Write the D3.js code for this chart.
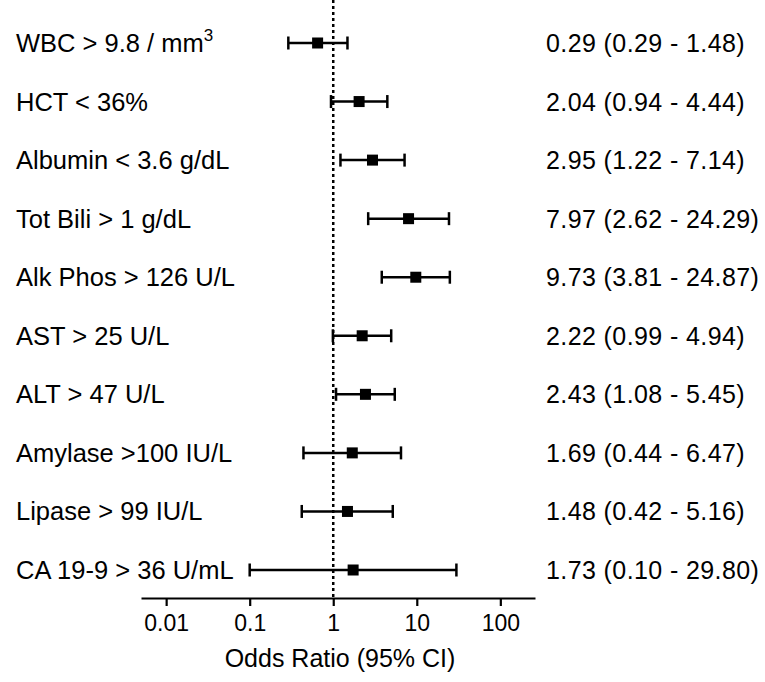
<!DOCTYPE html>
<html>
<head>
<meta charset="utf-8">
<script src="https://cdn.jsdelivr.net/npm/d3@7"></script>
<style>
    body { margin: 0; background: #fff; }
    svg { display: block; font-family: "Liberation Sans", Arial, sans-serif; }
</style>
</head>
<body>
<div id="chart"></div>
<script>
// row labels, top to bottom
const labels = ["WBC > 9.8 / mm", "HCT < 36%", "Albumin < 3.6 g/dL", "Tot Bili > 1 g/dL",
    "Alk Phos > 126 U/L", "AST > 25 U/L", "ALT > 47 U/L", "Amylase >100 IU/L",
    "Lipase > 99 IU/L", "CA 19-9 > 36 U/mL"];
const superscripts = ["3", "", "", "", "", "", "", "", "", ""];

// plotted odds ratios and 95% CI bounds
const oddsRatio = [0.65, 2.04, 2.95, 7.97, 9.73, 2.22, 2.43, 1.69, 1.48, 1.73];
const ciLow = [0.29, 0.94, 1.22, 2.62, 3.81, 0.99, 1.08, 0.44, 0.42, 0.10];
const ciHigh = [1.48, 4.44, 7.14, 24.29, 24.87, 4.94, 5.45, 6.47, 5.16, 29.80];

// text shown on the right
const ciText = ["0.29 (0.29 - 1.48)", "2.04 (0.94 - 4.44)", "2.95 (1.22 - 7.14)",
    "7.97 (2.62 - 24.29)", "9.73 (3.81 - 24.87)", "2.22 (0.99 - 4.94)",
    "2.43 (1.08 - 5.45)", "1.69 (0.44 - 6.47)", "1.48 (0.42 - 5.16)",
    "1.73 (0.10 - 29.80)"];

const tickValues = [0.01, 0.1, 1, 10, 100];
const tickLabels = ["0.01", "0.1", "1", "10", "100"];

const width = 765;
const height = 682;
const axisY = 598;

const rows = labels.map((l, i) => ({
    label: l, sup: superscripts[i], or: oddsRatio[i], lo: ciLow[i], hi: ciHigh[i], text: ciText[i], i: i
}));

const svg = d3.select("#chart").append("svg")
    .attr("width", width)
    .attr("height", height);

const xScale = d3.scaleLog().domain([0.005, 260]).range([141, 535]);
const yScale = d3.scalePoint().domain(d3.range(labels.length)).range([43, 570]);

// reference line at OR = 1
svg.append("line")
    .attr("x1", xScale(1)).attr("x2", xScale(1))
    .attr("y1", 0).attr("y2", axisY)
    .attr("stroke", "#000")
    .attr("stroke-width", 2.5)
    .attr("stroke-dasharray", "3,3");

// x axis
const xAxis = svg.append("g")
    .attr("transform", `translate(0,${axisY})`)
    .call(d3.axisBottom(xScale)
        .tickValues(tickValues)
        .tickFormat((d, i) => tickLabels[i])
        .tickSizeInner(8)
        .tickSizeOuter(0)
        .tickPadding(9));
xAxis.select(".domain").attr("stroke-width", 2.2);
xAxis.selectAll(".tick line").attr("stroke-width", 2.2);
xAxis.selectAll(".tick text")
    .attr("font-size", "23px")
    .attr("font-family", "Liberation Sans, Arial, sans-serif")
    .attr("fill", "#000");

svg.append("text")
    .attr("x", 340)
    .attr("y", 667)
    .attr("text-anchor", "middle")
    .attr("font-size", "25px")
    .text("Odds Ratio (95% CI)");

// row labels
const lab = svg.selectAll(".rowlabel")
    .data(rows)
    .enter().append("text")
    .attr("class", "rowlabel")
    .attr("x", 16)
    .attr("y", d => yScale(d.i) + 9)
    .attr("font-size", "25.5px")
    .text(d => d.label);
lab.filter(d => d.sup)
    .append("tspan")
    .attr("dy", -11)
    .attr("font-size", "17px")
    .text(d => d.sup);

// CI text
svg.selectAll(".citext")
    .data(rows)
    .enter().append("text")
    .attr("class", "citext")
    .attr("x", 546)
    .attr("y", d => yScale(d.i) + 9)
    .attr("font-size", "25px")
    .attr("letter-spacing", "0.4px")
    .text(d => d.text);

// error bars
const bars = svg.selectAll(".bar")
    .data(rows)
    .enter().append("g")
    .attr("class", "bar");

bars.append("line")
    .attr("x1", d => xScale(d.lo)).attr("x2", d => xScale(d.hi))
    .attr("y1", d => yScale(d.i)).attr("y2", d => yScale(d.i))
    .attr("stroke", "#000").attr("stroke-width", 2.5);

bars.selectAll(".cap")
    .data(d => [{ v: d.lo, i: d.i }, { v: d.hi, i: d.i }])
    .enter().append("line")
    .attr("class", "cap")
    .attr("x1", d => xScale(d.v)).attr("x2", d => xScale(d.v))
    .attr("y1", d => yScale(d.i) - 6.5).attr("y2", d => yScale(d.i) + 6.5)
    .attr("stroke", "#000").attr("stroke-width", 2.5);

bars.append("rect")
    .attr("x", d => xScale(d.or) - 5.5)
    .attr("y", d => yScale(d.i) - 5.5)
    .attr("width", 11)
    .attr("height", 11)
    .attr("fill", "#000");
</script>
</body>
</html>
